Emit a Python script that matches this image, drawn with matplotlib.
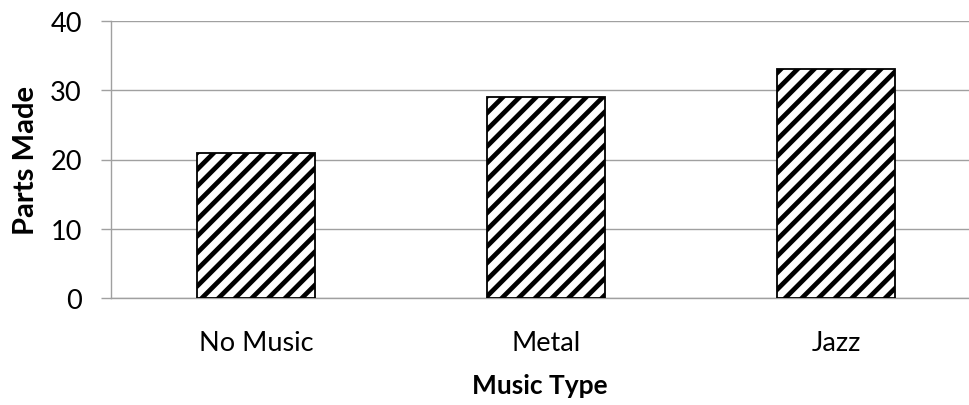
import matplotlib
matplotlib.use("Agg")
import matplotlib.pyplot as plt

categories = ["No Music", "Metal", "Jazz"]
values = [21, 29, 33]
yticks = [0, 10, 20, 30, 40]

plt.rcParams['font.family'] = ['Lato', 'DejaVu Sans']
plt.rcParams['hatch.linewidth'] = 3.4
plt.rcParams['hatch.color'] = 'black'

W, H = 969, 406
fig = plt.figure(figsize=(W/100, H/100), dpi=100)
left, right, top, bottom = 111, 969, 22, 299
ax = fig.add_axes([left/W, (H-bottom)/H, (right-left)/W, (bottom-top)/H])

x = list(range(len(categories)))
ax.bar(x, values, width=0.407, color='white', edgecolor='black',
       linewidth=1.3, hatch='//', zorder=3)

ax.set_ylim(0, 40)
ax.set_xlim(-0.5, -0.5 + (right-left)/290.0)
ax.set_yticks(yticks)
ax.set_xticks(x)
ax.set_xticklabels(categories)

grid_c = '#a0a0a0'
ax.yaxis.grid(True, color=grid_c, linewidth=1.0, zorder=0)
ax.set_axisbelow(True)
for s in ['top', 'right']:
    ax.spines[s].set_visible(False)
for s in ['left', 'bottom']:
    ax.spines[s].set_color(grid_c)
    ax.spines[s].set_linewidth(1.0)

ax.tick_params(axis='y', length=7, width=1.0, color=grid_c, pad=14, labelsize=19.5)
ax.tick_params(axis='x', length=0, pad=23, labelsize=19.5)

ax.set_ylabel("Parts Made", fontsize=21, fontweight='bold', labelpad=8)
ax.set_xlabel("Music Type", fontsize=19, fontweight='bold', labelpad=13)

fig.savefig("out.png", dpi=100)
